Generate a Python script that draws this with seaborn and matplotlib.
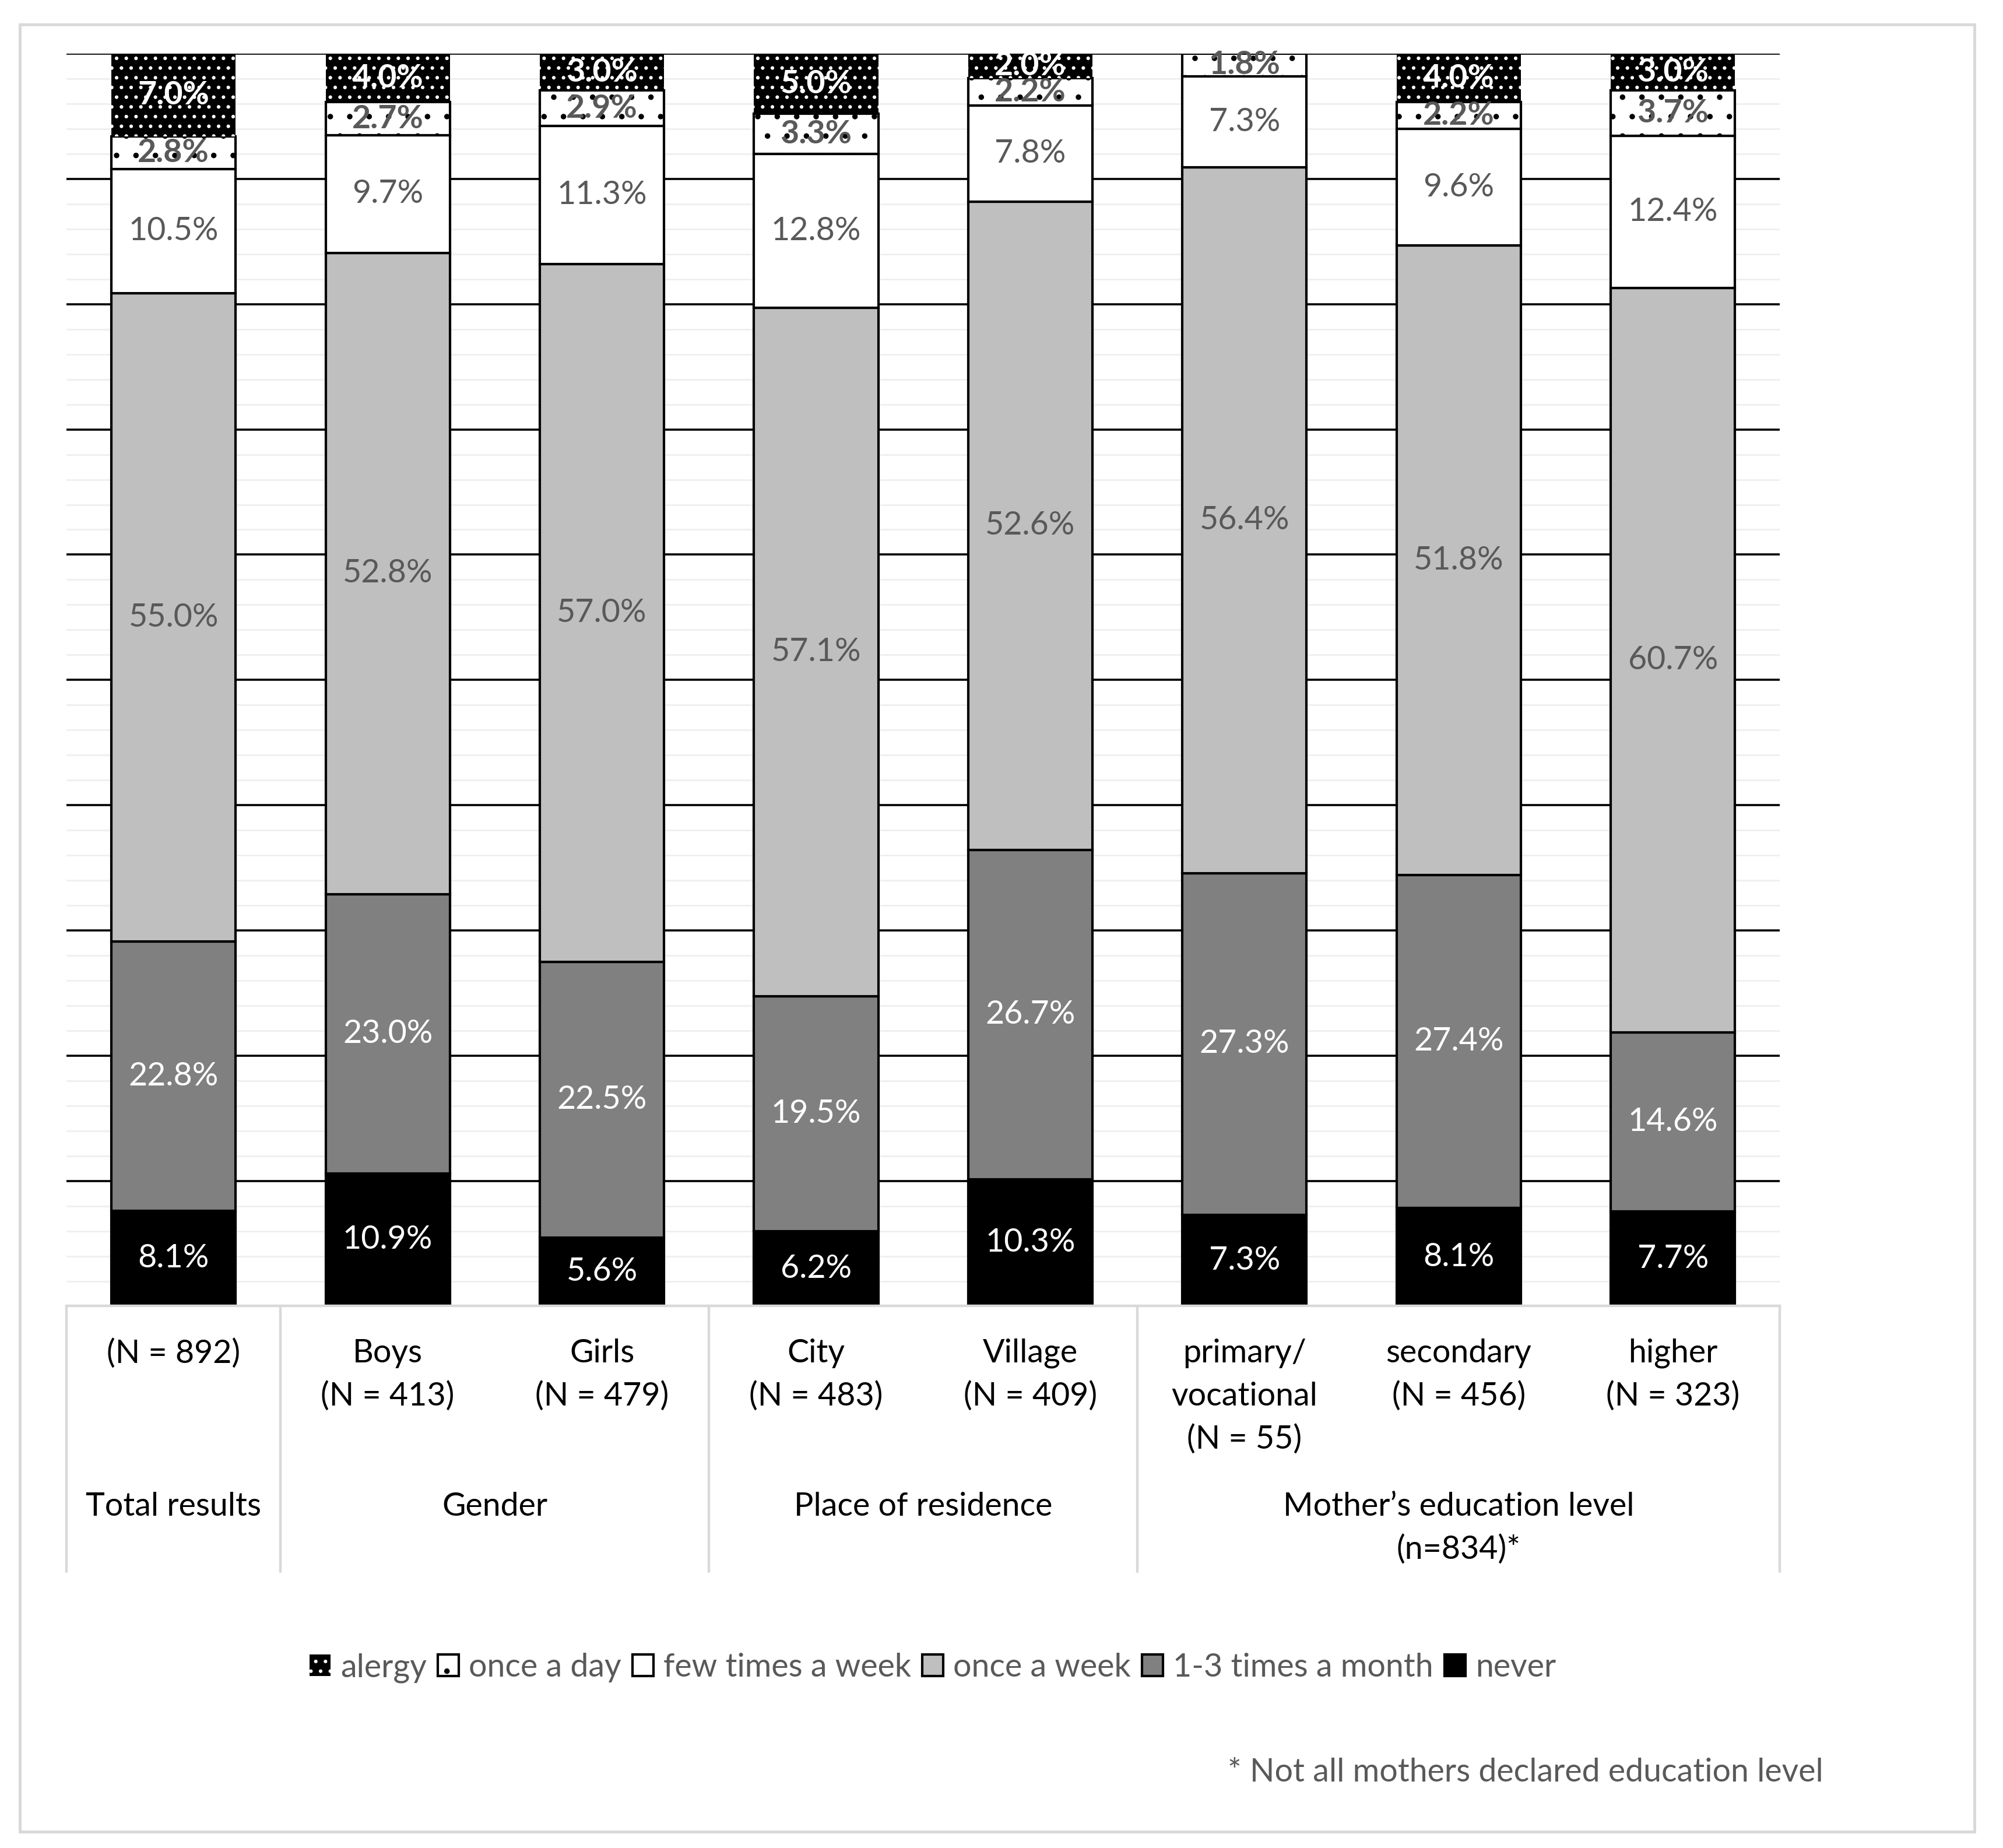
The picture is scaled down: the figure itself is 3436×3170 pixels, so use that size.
import numpy as np
import pandas as pd
import matplotlib
matplotlib.use("Agg")
import matplotlib.pyplot as plt
import seaborn as sns
from matplotlib.patches import Rectangle

# --- data (values as printed on the chart, %) ---
categories = [
    "(N = 892)",
    "Boys\n(N = 413)",
    "Girls\n(N = 479)",
    "City\n(N = 483)",
    "Village\n(N = 409)",
    "primary/\nvocational\n(N = 55)",
    "secondary\n(N = 456)",
    "higher\n(N = 323)",
]
groups = ["Total results", "Gender", "Place of residence",
          "Mother\u2019s education level\n(n=834)*"]
group_members = [[0], [1, 2], [3, 4], [5, 6, 7]]

never = [8.1, 10.9, 5.6, 6.2, 10.3, 7.3, 8.1, 7.7]
monthly = [22.8, 23.0, 22.5, 19.5, 26.7, 27.3, 27.4, 14.6]
weekly = [55.0, 52.8, 57.0, 57.1, 52.6, 56.4, 51.8, 60.7]
few_weekly = [10.5, 9.7, 11.3, 12.8, 7.8, 7.3, 9.6, 12.4]
daily = [2.8, 2.7, 2.9, 3.3, 2.2, 1.8, 2.2, 3.7]
alergy = [7.0, 4.0, 3.0, 5.0, 2.0, 0.0, 4.0, 3.0]

df = pd.DataFrame({
    "never": never,
    "1-3 times a month": monthly,
    "once a week": weekly,
    "few times a week": few_weekly,
    "once a day": daily,
    "alergy": alergy,
}, index=categories)
# 100% stacked: each column normalised to its own total
share = df.div(df.sum(axis=1), axis=0)

GRAY_TXT = "#595959"
LINE_GRAY = "#D9D9D9"
FS = 20

styles = {
    "never": dict(color="black", edgecolor="black", linewidth=1.5),
    "1-3 times a month": dict(color="#808080", edgecolor="black", linewidth=1.5),
    "once a week": dict(color="#BFBFBF", edgecolor="black", linewidth=1.5),
    "few times a week": dict(color="white", edgecolor="black", linewidth=1.5),
    "once a day": dict(color="white", edgecolor="black", linewidth=1.5, hatch="."),
    "alergy": dict(color="black", edgecolor="white", linewidth=0, hatch=".."),
}
label_style = {
    "never": ("white", "normal"),
    "1-3 times a month": ("white", "normal"),
    "once a week": (GRAY_TXT, "normal"),
    "few times a week": (GRAY_TXT, "normal"),
    "once a day": (GRAY_TXT, "bold"),
    "alergy": ("white", "bold"),
}

sns.set_style("white")
plt.rcParams["font.family"] = ["Lato", "DejaVu Sans"]
plt.rcParams["hatch.linewidth"] = 1.0

fig = plt.figure(figsize=(3437 / 200, 3170 / 200), dpi=200)
W, H = 1568.0, 1446.0  # reference layout measured in these units
ax_l, ax_r, ax_t, ax_b = 52, 1393, 42, 1022
ax = fig.add_axes([ax_l / W, 1 - ax_b / H, (ax_r - ax_l) / W, (ax_b - ax_t) / H])

bottom = np.zeros(len(categories))
for name in df.columns:
    vals = share[name].values
    sns.barplot(x=categories, y=vals, bottom=bottom, width=0.58, saturation=1,
                errorbar=None, label=name, ax=ax, **styles[name])
    cont = ax.containers[-1]
    txt_color, weight = label_style[name]
    labels = [f"{v:.1f}%" if v > 0 else "" for v in df[name]]
    ax.bar_label(cont, labels=labels, label_type="center", color=txt_color,
                 fontsize=FS, fontweight=weight)
    bottom = bottom + vals

if ax.get_legend() is not None:
    ax.get_legend().remove()

ax.set_xlim(-0.5, len(categories) - 0.5)
ax.set_ylim(0, 1)
ax.set_yticks(np.arange(0.1, 1.001, 0.1))
ax.set_yticks(np.arange(0, 1.001, 0.02), minor=True)
ax.yaxis.grid(True, which="minor", color="#EFEFEF", linewidth=1.0)
ax.yaxis.grid(True, which="major", color="black", linewidth=1.3)
ax.set_axisbelow(True)
ax.tick_params(which="both", length=0, labelleft=False, labelbottom=False)
ax.set_xlabel("")
ax.set_ylabel("")
for side in ["top", "left", "right"]:
    ax.spines[side].set_visible(False)
ax.spines["bottom"].set_color(LINE_GRAY)
ax.spines["bottom"].set_linewidth(1.6)


def ypx(y):
    # reference pixel row -> axes fraction
    return (ax_b - y) / (ax_b - ax_t)


trans = ax.get_xaxis_transform()
# table-like category axis
for xs in [-0.5, 0.5, 2.5, 4.5, 7.5]:
    ax.plot([xs, xs], [0, ypx(1230)], transform=trans, clip_on=False,
            color=LINE_GRAY, linewidth=1.6)

for i, cat in enumerate(categories):
    for k, line in enumerate(cat.split("\n")):
        ax.text(i, ypx(1059 + 33.5 * k), line, transform=trans, ha="center",
                va="center", fontsize=FS, color="black")

for g, members in zip(groups, group_members):
    xc = np.mean(members)
    for k, line in enumerate(g.split("\n")):
        ax.text(xc, ypx(1179 + 33.5 * k), line, transform=trans, ha="center",
                va="center", fontsize=FS, color="black")

handles, labels = ax.get_legend_handles_labels()
fig.legend(handles[::-1], labels[::-1], loc="center",
           bbox_to_anchor=(730 / W, 1 - 1305 / H), ncol=6, frameon=False,
           fontsize=FS, handlelength=0.65, handleheight=0.65,
           handletextpad=0.3, columnspacing=0.35, labelcolor=GRAY_TXT,
           borderpad=0, borderaxespad=0)

fig.text(1427 / W, 1 - 1387 / H, "* Not all mothers declared education level",
         ha="right", va="center", fontsize=FS, color=GRAY_TXT)

fig.add_artist(Rectangle((15.5 / W, 1 - 1433 / H), (1545 - 15.5) / W, (1433 - 19) / H,
                         transform=fig.transFigure, fill=False,
                         edgecolor=LINE_GRAY, linewidth=1.8))

fig.savefig("out.png", dpi=200)
